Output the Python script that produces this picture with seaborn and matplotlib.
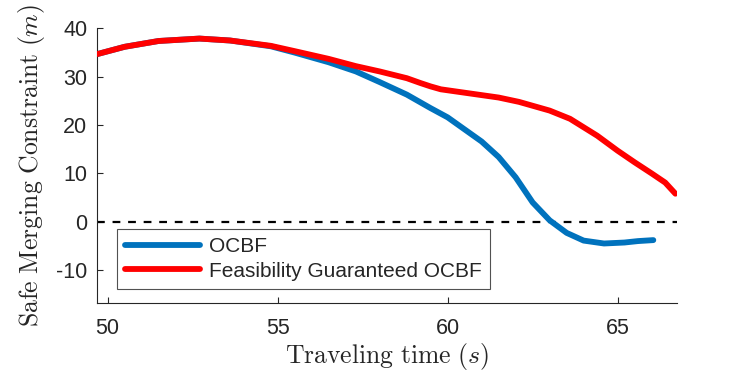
import matplotlib

matplotlib.use("Agg")
import matplotlib.pyplot as plt
import pandas as pd
import seaborn as sns

# traveling time (s) and safe merging constraint (m)
OCBF_T = [49.7, 50.5, 51.5, 52.7, 53.6, 54.8, 55.5, 56.5, 57.3, 58.0, 58.8,
          59.5, 60.0, 60.5, 61.0, 61.5, 62.0, 62.5, 63.0, 63.5, 64.0, 64.6,
          65.2, 65.6, 66.05]
OCBF_H = [34.7, 36.2, 37.4, 37.9, 37.5, 36.3, 35.0, 33.0, 31.1, 28.9, 26.3,
          23.5, 21.6, 19.1, 16.6, 13.4, 9.2, 4.0, 0.3, -2.3, -3.9, -4.5,
          -4.3, -4.0, -3.8]

FG_T = [49.7, 50.5, 51.5, 52.7, 53.6, 54.8, 55.5, 56.5, 57.3, 58.0, 58.8,
        59.2, 59.5, 59.8, 60.2, 60.6, 61.0, 61.5, 62.1, 62.6, 63.0, 63.6,
        64.4, 65.0, 65.5, 66.0, 66.4, 66.7]
FG_H = [34.7, 36.2, 37.4, 37.9, 37.5, 36.4, 35.3, 33.7, 32.2, 31.1, 29.7,
        28.7, 28.0, 27.4, 27.0, 26.6, 26.2, 25.7, 24.8, 23.8, 23.0, 21.3,
        17.8, 14.7, 12.3, 10.0, 8.1, 5.8]

LABELS = ["OCBF", "Feasibility Guaranteed OCBF"]
COLORS = ["#0072BD", "#FF0000"]

sns.set_theme(style="ticks")
plt.rcParams["font.family"] = ["Liberation Sans", "DejaVu Sans"]
plt.rcParams["mathtext.fontset"] = "cm"
plt.rcParams["axes.unicode_minus"] = False

df = pd.concat([
    pd.DataFrame({"t": OCBF_T, "h": OCBF_H, "series": LABELS[0]}),
    pd.DataFrame({"t": FG_T, "h": FG_H, "series": LABELS[1]}),
])

fig = plt.figure(figsize=(7.47, 3.74), dpi=100)
ax = fig.add_axes([0.130, 0.190, 0.776, 0.734])

sns.lineplot(data=df, x="t", y="h", hue="series", palette=COLORS,
             hue_order=LABELS, sort=False, lw=4.2, ax=ax, estimator=None)
ax.lines[1].set_zorder(3)
ax.axhline(0, color="black", ls=(0, (3.5, 3.5)), lw=1.6, zorder=1)

ax.set_xlim(49.69, 66.74)
ax.set_ylim(-16.8, 40)
ax.set_xticks([50, 55, 60, 65])
ax.set_yticks([-10, 0, 10, 20, 30, 40])
ax.tick_params(direction="in", length=4, width=0.8, labelsize=15.5,
               colors="#262626")
ax.tick_params(axis="x", pad=11)
ax.tick_params(axis="y", pad=7)
for s in ("left", "bottom"):
    ax.spines[s].set_color("#262626")
    ax.spines[s].set_linewidth(0.8)
sns.despine(ax=ax)

ax.set_xlabel(r"$\mathrm{Traveling\ time\ }(s)$", fontsize=18.5, labelpad=1)
ax.set_ylabel(r"$\mathrm{Safe\ Merging\ Constraint\ }(m)$", fontsize=18.5)
ax.yaxis.set_label_coords(-0.086, 0.5)

leg = ax.legend(loc="lower left", bbox_to_anchor=(0.0345, 0.051), fontsize=15,
                frameon=True, fancybox=False, handlelength=3.6,
                borderpad=0.4, labelspacing=0.25, handletextpad=0.4,
                borderaxespad=0)
leg.get_frame().set_edgecolor("#262626")
leg.get_frame().set_linewidth(0.8)

fig.savefig("out.png", dpi=100, facecolor="white")
